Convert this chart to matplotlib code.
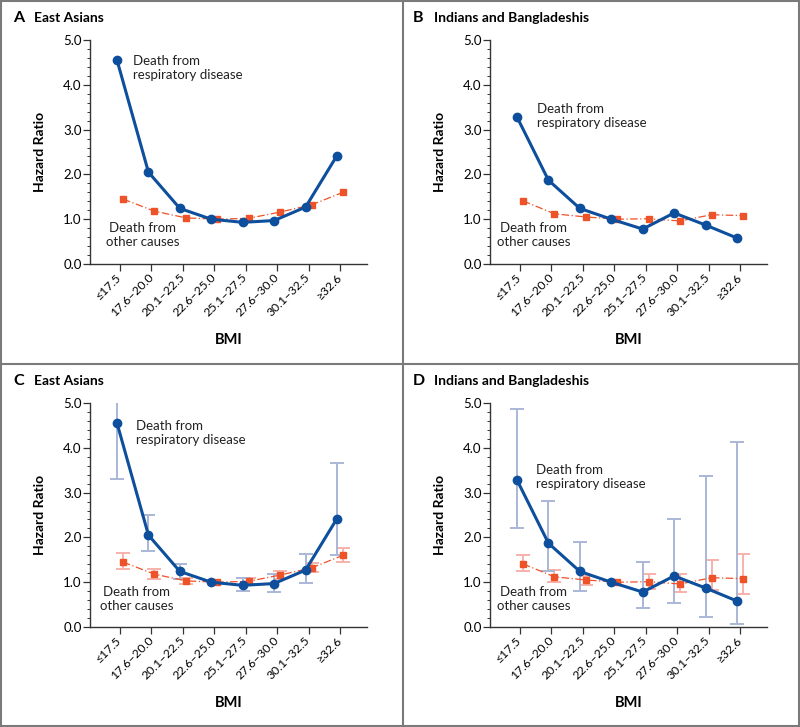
import numpy as np
import matplotlib
matplotlib.use("Agg")
import matplotlib.pyplot as plt
from matplotlib.patches import Rectangle
from matplotlib.lines import Line2D
from matplotlib.ticker import MultipleLocator

plt.rcParams['font.family'] = ['Lato', 'DejaVu Sans']

bmi = ['≤17.5', '17.6–20.0', '20.1–22.5', '22.6–25.0', '25.1–27.5',
       '27.6–30.0', '30.1–32.5', '≥32.6']

# East Asians
ea_resp = [4.55, 2.05, 1.24, 1.0, 0.93, 0.97, 1.27, 2.42]
ea_resp_lo = [3.31, 1.69, 1.08, np.nan, 0.81, 0.79, 0.99, 1.60]
ea_resp_hi = [6.3, 2.50, 1.40, np.nan, 1.10, 1.18, 1.64, 3.66]
ea_other = [1.45, 1.18, 1.03, 1.0, 1.02, 1.16, 1.32, 1.60]
ea_other_lo = [1.29, 1.08, 0.97, np.nan, 0.95, 1.08, 1.22, 1.46]
ea_other_hi = [1.66, 1.29, 1.10, np.nan, 1.10, 1.24, 1.43, 1.76]

# Indians and Bangladeshis
ib_resp = [3.28, 1.87, 1.24, 1.0, 0.78, 1.14, 0.87, 0.58]
ib_resp_lo = [2.22, 1.25, 0.81, np.nan, 0.43, 0.54, 0.23, 0.07]
ib_resp_hi = [4.87, 2.81, 1.90, np.nan, 1.46, 2.40, 3.37, 4.14]
ib_other = [1.41, 1.12, 1.05, 1.0, 1.01, 0.96, 1.10, 1.08]
ib_other_lo = [1.24, 1.01, 0.93, np.nan, 0.84, 0.78, 0.82, 0.73]
ib_other_hi = [1.60, 1.27, 1.14, np.nan, 1.18, 1.18, 1.49, 1.64]

BLUE = '#0d4f9c'
RED = '#ee5228'
LBLUE = '#aab7d6'
LRED = '#f6b2aa'

W, H = 800, 727
fig = plt.figure(figsize=(W / 100, H / 100), dpi=100)

panels = [
    ('A', 'East Asians', 0, 0, ea_resp, ea_other, None, (0.41, 4.66), (0.73, 0.94)),
    ('B', 'Indians and Bangladeshis', 400, 0, ib_resp, ib_other, None, (0.54, 3.59), (0.44, 0.94)),
    ('C', 'East Asians', 0, 363, ea_resp, ea_other,
     (ea_resp_lo, ea_resp_hi, ea_other_lo, ea_other_hi), (0.51, 4.63), (0.54, 0.92)),
    ('D', 'Indians and Bangladeshis', 400, 363, ib_resp, ib_other,
     (ib_resp_lo, ib_resp_hi, ib_other_lo, ib_other_hi), (0.51, 3.63), (0.44, 0.92)),
]

x = np.arange(len(bmi))
off = 0.095

for letter, title, ox, oy, resp, other, ci, lab1, lab2 in panels:
    left = (ox + 90) / W
    width = 277 / W
    bottom = 1 - (oy + 264) / H
    height = 224 / H
    ax = fig.add_axes([left, bottom, width, height])
    ax.set_xlim(-0.955, 7.86)
    ax.set_ylim(0, 5.0)

    if ci is not None:
        rlo, rhi, olo, ohi = [np.array(a) for a in ci]
        r = np.array(resp)
        o = np.array(other)
        ax.errorbar(x + off, o, yerr=[o - olo, ohi - o], fmt='none',
                    ecolor=LRED, elinewidth=1.4, capsize=5, capthick=1.4, zorder=1)
        ax.errorbar(x - off, r, yerr=[r - rlo, rhi - r], fmt='none',
                    ecolor=LBLUE, elinewidth=1.4, capsize=5, capthick=1.4, zorder=1)

    ax.plot(x + off, other, color=RED, lw=0.9, ls=(0, (6, 2, 1, 2)),
            marker='s', ms=5, mec=RED, mfc=RED, zorder=3)
    ax.plot(x - off, resp, color=BLUE, lw=2.2, marker='o', ms=6,
            mec=BLUE, mfc=BLUE, zorder=4)

    ax.text(lab1[0], lab1[1], 'Death from\nrespiratory disease', ha='left', va='top',
            fontsize=9.5, linespacing=1.2, color='#222222', zorder=5)
    ax.text(lab2[0], lab2[1], 'Death from\nother causes', ha='center', va='top',
            fontsize=9.5, linespacing=1.2, color='#222222', zorder=5)

    for s in ['top', 'right']:
        ax.spines[s].set_visible(False)
    for s in ['left', 'bottom']:
        ax.spines[s].set_linewidth(1.0)
        ax.spines[s].set_color('#333333')

    ax.yaxis.set_minor_locator(MultipleLocator(0.2))
    ax.set_yticks(np.arange(0, 5.01, 1.0))
    ax.set_yticklabels(['%.1f' % v for v in np.arange(0, 5.01, 1.0)], fontsize=9.5)
    ax.tick_params(axis='y', which='major', length=5, width=0.9, color='#333333', pad=1)
    ax.tick_params(axis='y', which='minor', length=2.5, width=0.7, color='#333333')

    ax.set_xticks(x)
    ax.set_xticklabels(bmi, rotation=45, ha='right', va='center',
                       rotation_mode='anchor', fontsize=8.8)
    ax.tick_params(axis='x', length=5, width=0.9, color='#333333', pad=3)

    ax.text(-0.18, 0.5, 'Hazard Ratio', rotation=90, ha='center', va='center',
            transform=ax.transAxes, fontsize=10, fontweight='bold')
    ax.text(0.5, -0.34, 'BMI', ha='center', va='center', transform=ax.transAxes,
            fontsize=10.5, fontweight='bold')

    fig.text((ox + 13) / W, 1 - (oy + 18) / H, letter, ha='left', va='center',
             fontsize=11.5, fontweight='bold')
    fig.text((ox + 34) / W, 1 - (oy + 18) / H, title, ha='left', va='center',
             fontsize=10, fontweight='bold')

# panel borders
GRAY = '#7a7a7a'
fig.add_artist(Rectangle((1 / W, 1 / H), (W - 2) / W, (H - 2) / H, fill=False,
                         edgecolor=GRAY, lw=1.5, transform=fig.transFigure))
fig.add_artist(Line2D([403 / W, 403 / W], [0, 1], color=GRAY, lw=1.5,
                      transform=fig.transFigure))
fig.add_artist(Line2D([0, 1], [1 - 364 / H, 1 - 364 / H], color=GRAY, lw=1.5,
                      transform=fig.transFigure))

fig.savefig('out.png', dpi=100)
